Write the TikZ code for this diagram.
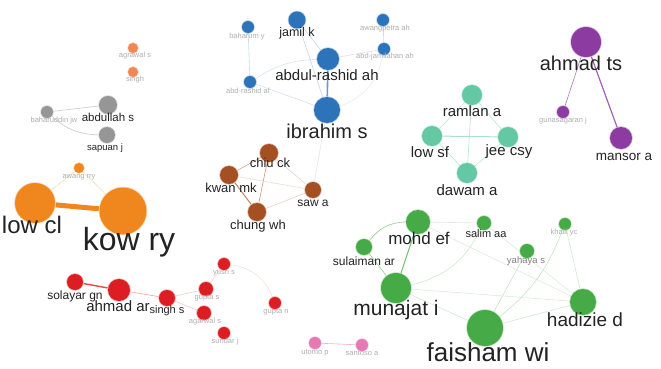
\documentclass[tikz,border=0pt]{standalone}
\usepackage{fontspec}
\setmainfont{Liberation Sans}
\definecolor{cLor}{RGB}{240,135,85}
\definecolor{cGr}{RGB}{150,150,150}
\definecolor{cBl}{RGB}{45,115,185}
\definecolor{cPu}{RGB}{140,60,160}
\definecolor{cTe}{RGB}{100,200,165}
\definecolor{cBr}{RGB}{165,80,35}
\definecolor{cOr}{RGB}{240,135,30}
\definecolor{cRe}{RGB}{220,30,35}
\definecolor{cGn}{RGB}{70,170,70}
\definecolor{cPk}{RGB}{230,120,180}
\definecolor{cTx}{RGB}{35,35,35}
\definecolor{cFa}{RGB}{175,175,175}
\pgfdeclarelayer{bg}
\pgfsetlayers{bg,main}
\begin{document}
\begin{tikzpicture}[x=1pt,y=-1pt,
  dot/.style={circle,inner sep=0pt,fill=#1,draw=#1,draw opacity=0.35,line width=1.5pt},
  lab/.style={inner sep=0pt,text=cTx,font=\fontsize{#1}{#1}\selectfont},
  flab/.style={inner sep=0pt,text=cFa,font=\fontsize{7.5}{7.5}\selectfont},
  edge/.style={line width=0.6pt}]
\useasboundingbox (0,0) rectangle (661,369);
% ---------- small orange
\node[dot=cLor,minimum size=10pt] (a1) at (133,48) {};
\node[flab] (a1l) at (135,56) {agrawal s};
\node[dot=cLor,minimum size=10pt] (a2) at (133,72) {};
\node[flab] (a2l) at (135,80) {singh};
% ---------- gray
\node[dot=cGr,minimum size=12pt] (g1) at (47,112) {};
\node[flab] (g1l) at (54,121) {baharuddin jw};
\node[dot=cGr,minimum size=18pt] (g2) at (108,105) {};
\node[lab=11.5] (g2l) at (108,117) {abdullah s};
\node[dot=cGr,minimum size=16pt] (g3) at (107,135) {};
\node[lab=9.5] (g3l) at (105,148) {sapuan j};
% ---------- blue
\node[dot=cBl,minimum size=12pt] (b1) at (248,27) {};
\node[flab] (b1l) at (247,37) {baharum y};
\node[dot=cBl,minimum size=17pt] (b2) at (297,20) {};
\node[lab=12.5] (b2l) at (297,33) {jamil k};
\node[dot=cBl,minimum size=22pt] (b3) at (328,59) {};
\node[lab=15] (b3l) at (327,75) {abdul-rashid ah};
\node[dot=cBl,minimum size=26pt] (b4) at (327,110) {};
\node[lab=20] (b4l) at (327,131) {ibrahim s};
\node[dot=cBl,minimum size=12pt] (b5) at (250,82) {};
\node[flab] (b5l) at (248,91) {abd-rashid af};
\node[dot=cBl,minimum size=12pt] (b6) at (383,20) {};
\node[flab] (b6l) at (385,29) {awangpetra ah};
\node[dot=cBl,minimum size=12pt] (b7) at (384,49) {};
\node[flab] (b7l) at (385,57) {abd-jamilahan ah};
% ---------- purple
\node[dot=cPu,minimum size=30pt] (p1) at (586,42) {};
\node[lab=20] (p1l) at (581,63) {ahmad ts};
\node[dot=cPu,minimum size=12pt] (p2) at (563,112) {};
\node[flab] (p2l) at (563,121) {gunasagaran j};
\node[dot=cPu,minimum size=22pt] (p3) at (621,138) {};
\node[lab=13.5] (p3l) at (624,157) {mansor a};
% ---------- teal
\node[dot=cTe,minimum size=20pt] (t1) at (472,95) {};
\node[lab=15] (t1l) at (472,111) {ramlan a};
\node[dot=cTe,minimum size=20pt] (t2) at (432,136) {};
\node[lab=15] (t2l) at (430,152) {low sf};
\node[dot=cTe,minimum size=20pt] (t3) at (508,137) {};
\node[lab=15] (t3l) at (509,152) {jee csy};
\node[dot=cTe,minimum size=20pt] (t4) at (467,173) {};
\node[lab=15] (t4l) at (467,190) {dawam a};
% ---------- brown
\node[dot=cBr,minimum size=18pt] (r1) at (269,153) {};
\node[lab=13] (r1l) at (270,163) {chiu ck};
\node[dot=cBr,minimum size=18pt] (r2) at (229,175) {};
\node[lab=13] (r2l) at (231,188) {kwan mk};
\node[dot=cBr,minimum size=18pt] (r3) at (257,212) {};
\node[lab=13] (r3l) at (258,226) {chung wh};
\node[dot=cBr,minimum size=16pt] (r4) at (313,190) {};
\node[lab=12] (r4l) at (313,203) {saw a};
% ---------- big orange
\node[dot=cOr,minimum size=10pt] (o1) at (79,168) {};
\node[flab] (o1l) at (79,177) {awang rry};
\node[dot=cOr,minimum size=40pt] (o2) at (35,203) {};
\node[lab=24] (o2l) at (32,225) {low cl};
\node[dot=cOr,minimum size=47pt] (o3) at (123,211) {};
\node[lab=32] (o3l) at (129,242) {kow ry};
% ---------- red
\node[dot=cRe,minimum size=16pt] (d1) at (75,282) {};
\node[lab=12] (d1l) at (75,296) {solayar gn};
\node[dot=cRe,minimum size=22pt] (d2) at (119,290) {};
\node[lab=15] (d2l) at (118,306) {ahmad ar};
\node[dot=cRe,minimum size=16pt] (d3) at (167,298) {};
\node[lab=11] (d3l) at (167,311) {singh s};
\node[dot=cRe,minimum size=14pt] (d4) at (206,289) {};
\node[flab] (d4l) at (207,298) {gupta s};
\node[dot=cRe,minimum size=12pt] (d5) at (224,264) {};
\node[flab] (d5l) at (224,273) {yusri s};
\node[dot=cRe,minimum size=14pt] (d6) at (204,313) {};
\node[flab] (d6l) at (205,322) {agarwal s};
\node[dot=cRe,minimum size=12pt] (d7) at (224,333) {};
\node[flab] (d7l) at (225,342) {sundar j};
\node[dot=cRe,minimum size=12pt] (d8) at (275,303) {};
\node[flab] (d8l) at (276,312) {gupta n};
% ---------- green
\node[dot=cGn,minimum size=24pt] (e1) at (418,222) {};
\node[lab=17] (e1l) at (419,238) {mohd ef};
\node[dot=cGn,minimum size=16pt] (e2) at (364,247) {};
\node[lab=12] (e2l) at (364,261) {sulaiman ar};
\node[dot=cGn,minimum size=30pt] (e3) at (396,288) {};
\node[lab=21] (e3l) at (396,310) {munajat i};
\node[dot=cGn,minimum size=14pt] (e4) at (484,223) {};
\node[lab=11] (e4l) at (486,234) {salim aa};
\node[dot=cGn,minimum size=36pt] (e5) at (485,328) {};
\node[lab=26] (e5l) at (488,352) {faisham wi};
\node[dot=cGn,minimum size=12pt] (e6) at (565,224) {};
\node[flab] (e6l) at (564,233) {khalil yc};
\node[dot=cGn,minimum size=14pt] (e7) at (527,251) {};
\node[lab=9.5,text=gray] (e7l) at (526,261) {yahaya s};
\node[dot=cGn,minimum size=26pt] (e8) at (583,302) {};
\node[lab=19] (e8l) at (585,320) {hadizie d};
% ---------- pink
\node[dot=cPk,minimum size=12pt] (k1) at (315,343) {};
\node[flab] (k1l) at (315,353) {utomo p};
\node[dot=cPk,minimum size=12pt] (k2) at (362,345) {};
\node[flab] (k2l) at (362,353) {santoso a};
% ---------- edges
\begin{pgfonlayer}{bg}
\fill[white] (0,0) rectangle (661,369);
\draw[edge,cGr!50] (g1) -- (g2);
\draw[edge,cGr!50] (g1) to[bend right=20] (g3);
\draw[edge,cBl!25] (b1) -- (b5);
\draw[edge,cBl!30] (b2) -- (b3);
\draw[edge,cBl!30] (b2) -- (b4);
\draw[line width=1.6pt,cBl!70] (b3) -- (b4);
\draw[edge,cBl!20] (b5) to[bend left=15] (b3);
\draw[edge,cBl!20] (b5) -- (b4);
\draw[edge,cBl!25] (b6) -- (b7);
\draw[edge,cBl!20] (b3) -- (b7);
\draw[edge,cBl!12] (b7) to[bend left=30] (b4);
\draw[edge,gray!20] (b4) -- (r4);
\draw[edge,cPu!70] (p1) -- (p2);
\draw[line width=1.2pt,cPu!80] (p1) -- (p3);
\draw[edge,cTe!45] (t1) -- (t2);
\draw[edge,cTe!45] (t1) -- (t3);
\draw[edge,cTe!45] (t1) -- (t4);
\draw[line width=1pt,cTe!55] (t2) -- (t3);
\draw[edge,cTe!45] (t2) -- (t4);
\draw[edge,cTe!45] (t3) -- (t4);
\draw[edge,cBr!50] (r1) -- (r2);
\draw[line width=1pt,cBr!70] (r2) -- (r3);
\draw[edge,cBr!60] (r1) -- (r3);
\draw[edge,cBr!25] (r1) -- (r4);
\draw[edge,cBr!20] (r2) -- (r4);
\draw[edge,cBr!25] (r3) -- (r4);
\draw[line width=5pt,cOr] (o2) -- (o3);
\draw[edge,cOr!30] (o1) -- (o2);
\draw[edge,cOr!30] (o1) -- (o3);
\draw[line width=1.4pt,cRe!80] (d1) -- (d2);
\draw[edge,cRe!40] (d2) -- (d3);
\draw[edge,cRe!25] (d3) -- (d4);
\draw[edge,cRe!25] (d3) -- (d6);
\draw[edge,cRe!20] (d4) -- (d5);
\draw[edge,cRe!15] (d5) to[bend left=30] (d8);
\draw[edge,cGn!60] (e1) to[bend right=25] (e2);
\draw[edge,cGn!60] (e2) -- (e3);
\draw[line width=1pt,cGn!75] (e1) -- (e3);
\draw[edge,cGn!20] (e1) -- (e4);
\draw[edge,cGn!20] (e1) -- (e8);
\draw[edge,cGn!25] (e3) to[bend right=25] (e4);
\draw[edge,cGn!20] (e3) -- (e8);
\draw[edge,cGn!25] (e3) -- (e5);
\draw[edge,cGn!30] (e5) -- (e7);
\draw[edge,cGn!30] (e5) to[bend right=15] (e6);
\draw[edge,cGn!25] (e5) -- (e8);
\draw[edge,cGn!25] (e8) -- (e6);
\draw[edge,cGn!20] (e8) -- (e4);
\draw[edge,cPk!60] (k1) -- (k2);
\end{pgfonlayer}
\end{tikzpicture}
\end{document}
